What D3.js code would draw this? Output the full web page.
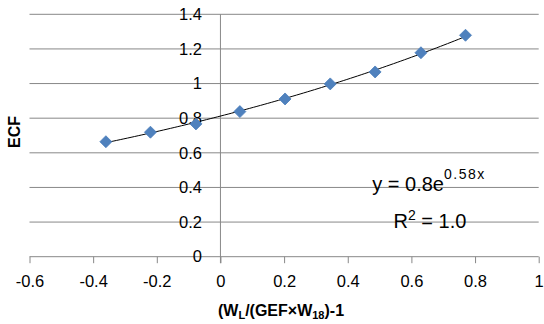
<!DOCTYPE html>
<html>
<head>
<meta charset="utf-8">
<script src="https://cdn.jsdelivr.net/npm/d3@7"></script>
<style>
  body { margin: 0; background: #fff; }
  svg { display: block; font-family: "Liberation Sans", Arial, sans-serif; }
</style>
</head>
<body>
<div id="canvas"></div>
<script>
// data
const xValues = [-0.36, -0.22, -0.077, 0.061, 0.203, 0.345, 0.486, 0.63, 0.77];
const ecfValues = [0.664, 0.719, 0.767, 0.838, 0.911, 0.998, 1.067, 1.178, 1.279];
const xTicks = [-0.6, -0.4, -0.2, 0, 0.2, 0.4, 0.6, 0.8, 1];
const yTicks = [0, 0.2, 0.4, 0.6, 0.8, 1, 1.2, 1.4];

const w = 544, h = 324;
const plotLeft = 29.5, plotRight = 538.7, plotTop = 14.3, plotBottom = 256.7;

let svg = d3.select("#canvas")
            .append("svg")
                .attr("width", w)
                .attr("height", h)
                .attr("viewBox", [0, 0, w, h]);

let x = d3.scaleLinear().domain([-0.6, 1]).range([plotLeft, plotRight]);
let y = d3.scaleLinear().domain([0, 1.4]).range([plotBottom, plotTop]);

const fmt = d => String(+d.toFixed(1));

// horizontal gridlines
svg.append("g")
    .selectAll("line")
    .data(yTicks.filter(d => d > 0))
    .enter().append("line")
        .attr("x1", plotLeft)
        .attr("x2", plotRight)
        .attr("y1", d => y(d))
        .attr("y2", d => y(d))
        .attr("stroke", "#888")
        .attr("stroke-width", 1);

// x axis at y = 0
let xAxis = d3.axisBottom(x)
        .tickValues(xTicks)
        .tickSize(6.5)
        .tickPadding(12)
        .tickFormat(fmt);
let gX = svg.append("g")
    .attr("transform", "translate(0," + y(0) + ")")
    .call(xAxis);
gX.select(".domain").attr("stroke", "#888").attr("d", "M" + plotLeft + ",0H" + plotRight);
gX.selectAll(".tick line").attr("stroke", "#888");
gX.selectAll(".tick text")
    .attr("fill", "#000")
    .attr("font-size", 16.5)
    .attr("font-family", "Liberation Sans, Arial, sans-serif");

// y axis at x = 0
let yAxis = d3.axisLeft(y)
        .tickValues(yTicks)
        .tickSize(0)
        .tickPadding(18.5)
        .tickFormat(fmt);
let gY = svg.append("g")
    .attr("transform", "translate(" + x(0) + ",0)")
    .call(yAxis);
gY.select(".domain").attr("stroke", "#888").attr("d", "M0," + plotTop + "V" + (plotBottom + 6.5));
gY.selectAll(".tick text")
    .attr("fill", "#000")
    .attr("font-size", 16.5)
    .attr("font-family", "Liberation Sans, Arial, sans-serif");

// exponential trendline fitted on the points (log-linear least squares)
const n = xValues.length;
const ly = ecfValues.map(v => Math.log(v));
const mx = d3.mean(xValues), my = d3.mean(ly);
const b = d3.sum(xValues, (v, i) => (v - mx) * (ly[i] - my)) / d3.sum(xValues, v => (v - mx) * (v - mx));
const a = Math.exp(my - b * mx);
const trendX = d3.range(0, 101).map(i => xValues[0] + (xValues[n - 1] - xValues[0]) * i / 100);
svg.append("path")
    .datum(trendX)
    .attr("fill", "none")
    .attr("stroke", "#000")
    .attr("stroke-width", 1)
    .attr("d", d3.line().x(d => x(d)).y(d => y(a * Math.exp(b * d))));

// diamond markers
svg.append("g")
    .selectAll("path")
    .data(xValues)
    .enter().append("path")
        .attr("transform", (d, i) => "translate(" + x(d) + "," + y(ecfValues[i]) + ")")
        .attr("d", "M0,-6L6,0L0,6L-6,0Z")
        .attr("fill", "#4f81bd")
        .attr("stroke", "#4a7ebb")
        .attr("stroke-width", 0.8);

// equation
let eq = svg.append("text")
    .attr("x", 429)
    .attr("y", 191)
    .attr("text-anchor", "middle")
    .attr("font-size", 20)
    .attr("fill", "#000");
eq.append("tspan").text("y = 0.8e");
eq.append("tspan").attr("dy", -12).attr("font-size", 14).attr("letter-spacing", 1.5).text("0.58x");

let r2 = svg.append("text")
    .attr("x", 430)
    .attr("y", 228)
    .attr("text-anchor", "middle")
    .attr("font-size", 20)
    .attr("fill", "#000");
r2.append("tspan").text("R");
r2.append("tspan").attr("dy", -8).attr("font-size", 14).text("2");
r2.append("tspan").attr("dy", 8).text(" = 1.0");

// axis titles
svg.append("text")
    .attr("transform", "translate(20,132) rotate(-90)")
    .attr("text-anchor", "middle")
    .attr("font-size", 16)
    .attr("font-weight", "bold")
    .text("ECF");

let xt = svg.append("text")
    .attr("x", 281)
    .attr("y", 316)
    .attr("text-anchor", "middle")
    .attr("font-size", 16)
    .attr("font-weight", "bold");
xt.append("tspan").text("(W");
xt.append("tspan").attr("dy", 3).attr("font-size", 11).text("L");
xt.append("tspan").attr("dy", -3).text("/(GEF×W");
xt.append("tspan").attr("dy", 3).attr("font-size", 11).text("18");
xt.append("tspan").attr("dy", -3).text(")-1");
</script>
</body>
</html>
